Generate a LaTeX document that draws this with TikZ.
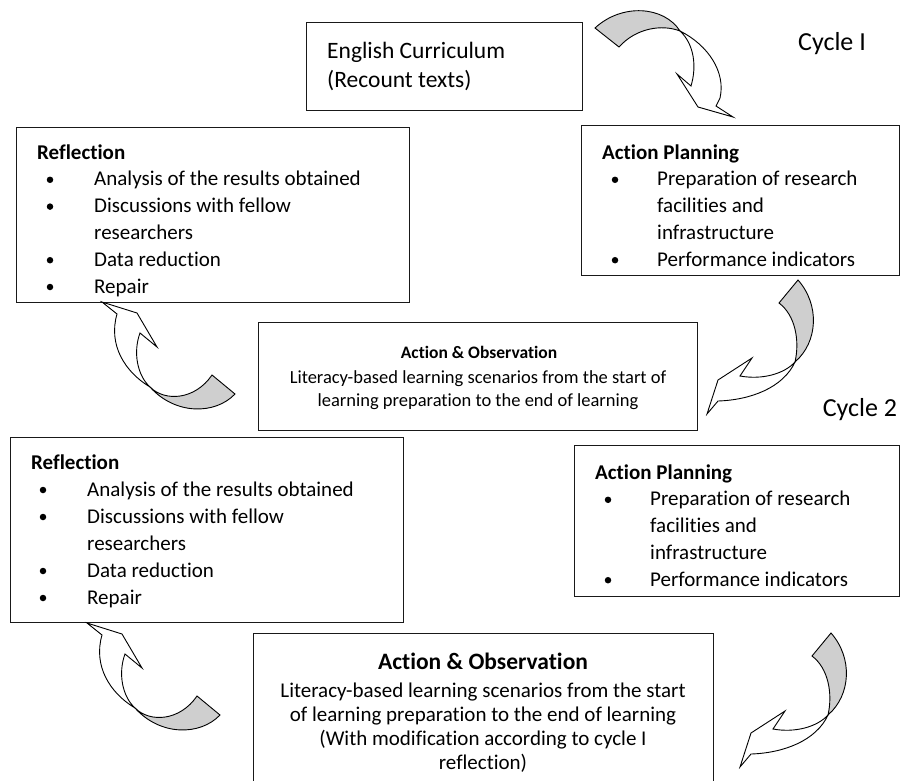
\documentclass[tikz,border=0pt]{standalone}
\usepackage{fontspec}
\setmainfont{Carlito}[Ligatures={NoCommon}]
\begin{document}
\begin{tikzpicture}[x=1pt,y=-1pt,
  box/.style={draw=black!90, line width=1.1pt, inner sep=0pt, anchor=north west, fill=white},
  body/.style={inner sep=0pt, anchor=base west, font=\fontsize{21}{25}\selectfont},
  head/.style={inner sep=0pt, anchor=base west, font=\bfseries\fontsize{21}{25}\selectfont},
  bul/.style={circle, fill=black, inner sep=0pt, minimum size=6.5pt},
  arrowline/.style={draw=black, line width=0.9pt, line join=miter},
  backface/.style={arrowline, fill=black!19},
  frontface/.style={arrowline, fill=white},
  cyc/.style={inner sep=0pt, anchor=base, font=\fontsize{26}{31}\selectfont}]
\useasboundingbox (0,0) rectangle (902,780);
\clip (0,0) rectangle (902,780);

% ---------- boxes ----------
\node[box, minimum width=276pt, minimum height=88pt] (eng) at (306,22) {};
\node[box, minimum width=393pt, minimum height=175pt] (refl1) at (16,127) {};
\node[box, minimum width=318pt, minimum height=150pt] (plan1) at (581,125) {};
\node[box, minimum width=439pt, minimum height=108pt] (act1) at (258,322) {};
\node[box, minimum width=393pt, minimum height=185pt] (refl2) at (10,437) {};
\node[box, minimum width=325pt, minimum height=151pt] (plan2) at (574,445) {};
\node[box, minimum width=460pt, minimum height=170pt] (act2) at (253,633) {};

% ---------- English curriculum ----------
\node[inner sep=0pt, anchor=base west, font=\fontsize{23.5}{28}\selectfont] (eng1) at (327,58.6) {English Curriculum};
\node[inner sep=0pt, anchor=base west, font=\fontsize{23.5}{28}\selectfont] (eng2) at (327,87.6) {(Recount texts)};

% ---------- cycle labels ----------
\node[cyc] (cyc1) at (832,50.5) {Cycle I};
\node[cyc] (cyc2) at (860,416.5) {Cycle 2};

% ---------- Reflection 1 ----------
\node[head] (r1t) at (37,159) {Reflection};
\node[body] (r1a) at (94,185.8) {Analysis of the results obtained};
\node[body] (r1b) at (94,212.6) {Discussions with fellow};
\node[body] (r1c) at (94,239.4) {researchers};
\node[body] (r1d) at (94,266.2) {Data reduction};
\node[body] (r1e) at (94,293) {Repair};
\node[bul] (r1ba) at (50,179.8) {};
\node[bul] (r1bb) at (50,206.6) {};
\node[bul] (r1bd) at (50,260.2) {};
\node[bul] (r1be) at (50,287) {};

% ---------- Reflection 2 ----------
\node[head] (r2t) at (31,469) {Reflection};
\node[body] (r2a) at (87,496) {Analysis of the results obtained};
\node[body] (r2b) at (87,523) {Discussions with fellow};
\node[body] (r2c) at (87,550) {researchers};
\node[body] (r2d) at (87,577) {Data reduction};
\node[body] (r2e) at (87,604) {Repair};
\node[bul] (r2ba) at (43,490) {};
\node[bul] (r2bb) at (43,517) {};
\node[bul] (r2bd) at (43,571) {};
\node[bul] (r2be) at (43,598) {};

% ---------- Action Planning 1 ----------
\node[head] (p1t) at (602,159) {Action Planning};
\node[body] (p1a) at (657,185.8) {Preparation of research};
\node[body] (p1b) at (657,212.6) {facilities and};
\node[body] (p1c) at (657,239.4) {infrastructure};
\node[body] (p1d) at (657,266.2) {Performance indicators};
\node[bul] (p1ba) at (615,179.8) {};
\node[bul] (p1bd) at (615,260.2) {};

% ---------- Action Planning 2 ----------
\node[head] (p2t) at (595,479) {Action Planning};
\node[body] (p2a) at (650,505.8) {Preparation of research};
\node[body] (p2b) at (650,532.6) {facilities and};
\node[body] (p2c) at (650,559.4) {infrastructure};
\node[body] (p2d) at (650,586.2) {Performance indicators};
\node[bul] (p2ba) at (608,499.8) {};
\node[bul] (p2bd) at (608,580.2) {};

% ---------- Action & Observation 1 ----------
\node[inner sep=0pt, anchor=base, font=\bfseries\fontsize{17.5}{21}\selectfont] (a1t) at (479,358.6) {Action \& Observation};
\node[inner sep=0pt, anchor=base, font=\fontsize{18.5}{22}\selectfont] (a1a) at (478,383) {Literacy-based learning scenarios from the start of};
\node[inner sep=0pt, anchor=base, font=\fontsize{18.5}{22}\selectfont] (a1b) at (478,406) {learning preparation to the end of learning};

% ---------- Action & Observation 2 ----------
\node[inner sep=0pt, anchor=base, font=\bfseries\fontsize{23.5}{28}\selectfont] (a2t) at (483,669.6) {Action \& Observation};
\node[inner sep=0pt, anchor=base, font=\fontsize{21}{25}\selectfont] (a2a) at (483,697) {Literacy-based learning scenarios from the start};
\node[inner sep=0pt, anchor=base, font=\fontsize{21}{25}\selectfont] (a2b) at (483,721) {of learning preparation to the end of learning};
\node[inner sep=0pt, anchor=base, font=\fontsize{21}{25}\selectfont] (a2c) at (483,745) {(With modification according to cycle I};
\node[inner sep=0pt, anchor=base, font=\fontsize{21}{25}\selectfont] (a2d) at (483,769) {reflection)};

% ---------- curved block arrows ----------
% A: English curriculum -> Action Planning 1
\path[backface] (595,28) .. controls (622,3) and (664,6) .. (680,31)
   .. controls (662,24) and (636,28) .. (619,47) -- cycle;
\path[frontface] (680,31) .. controls (708,45) and (726,72) .. (720,98)
   -- (716,106) -- (733,117) -- (698,107) -- (677,74) -- (691,86)
   .. controls (697,66) and (694,44) .. (680,31) -- cycle;

% B and D: Action Planning -> Action & Observation
\foreach \dx/\dy in {0/0, 33/353}{
\begin{scope}[shift={(\dx,\dy)}]
\path[backface] (798,280) .. controls (820,305) and (818,342) .. (795,362)
   .. controls (800,340) and (795,315) .. (779,303) -- cycle;
\path[frontface] (795,362) .. controls (784,374) and (762,380) .. (740,376)
   -- (752,358) -- (718,380) -- (707,414) -- (718,401)
   .. controls (750,400) and (783,388) .. (795,362) -- cycle;
\end{scope}}

% C and E: Action & Observation -> Reflection
\foreach \dx/\dy in {0/0, -15/321}{
\begin{scope}[shift={(\dx,\dy)}]
\path[backface] (150,387) .. controls (165,402) and (195,400) .. (212,375)
   -- (235,394) .. controls (215,415) and (175,415) .. (150,387) -- cycle;
\path[frontface] (150,387) .. controls (125,372) and (108,345) .. (117,314)
   -- (102,302) -- (137,313) -- (157,347) -- (140,333)
   .. controls (133,352) and (137,375) .. (150,387) -- cycle;
\end{scope}}
\end{tikzpicture}
\end{document}
